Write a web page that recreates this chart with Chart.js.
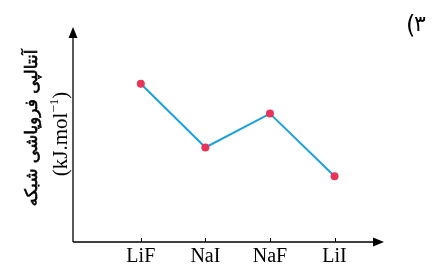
<!DOCTYPE html>
<html>
<head>
<meta charset="utf-8">
<script src="https://cdn.jsdelivr.net/npm/chart.js@4"></script>
<style>
  html, body { margin: 0; padding: 0; background: #fff; }
  #wrap { width: 432px; height: 272px; }
</style>
</head>
<body>
<div id="wrap"><canvas id="c" width="432" height="272"></canvas></div>
<script>
// dane (jednostki umowne, bez podziałki na osi y)
const categories = ['LiF', 'NaI', 'NaF', 'LiI'];
const positions = [1, 2, 3, 4];
const enthalpy = [159, 95, 129, 66];
const yTitle = 'آنتالپی فروپاشی شبکه';
const yUnit = ['(kJ.mol', '−1', ')'];
const questionNo = '۳';

const lineColor = '#1aa0dc';
const pointColor = '#e8335a';

// osie ze strzałkami, kreski podziałki i podpisy rysowane ręcznie
const axesPlugin = {
    id: 'axesPlugin',
    afterDraw(chart) {
        const ctx = chart.ctx;
        const a = chart.chartArea;
        const xs = chart.scales.x;
        const ox = a.left, oy = a.bottom;
        const xEnd = 384, yEnd = 27;
        ctx.save();
        ctx.strokeStyle = '#000';
        ctx.fillStyle = '#000';
        ctx.lineWidth = 1.3;
        ctx.beginPath();
        ctx.moveTo(ox, oy);
        ctx.lineTo(xEnd - 8, oy);
        ctx.moveTo(ox, oy);
        ctx.lineTo(ox, yEnd + 8);
        ctx.stroke();
        // strzałki
        ctx.beginPath();
        ctx.moveTo(xEnd, oy);
        ctx.lineTo(xEnd - 11, oy - 4.5);
        ctx.lineTo(xEnd - 11, oy + 4.5);
        ctx.closePath();
        ctx.fill();
        ctx.beginPath();
        ctx.moveTo(ox, yEnd);
        ctx.lineTo(ox - 4.5, yEnd + 11);
        ctx.lineTo(ox + 4.5, yEnd + 11);
        ctx.closePath();
        ctx.fill();
        // kreski
        ctx.lineWidth = 1;
        positions.forEach(p => {
            const px = Math.round(xs.getPixelForValue(p)) + 0.5;
            ctx.beginPath();
            ctx.moveTo(px, oy);
            ctx.lineTo(px, oy - 4);
            ctx.stroke();
        });

        // tytuł osi y
        ctx.translate(33, 128);
        ctx.rotate(-Math.PI / 2);
        ctx.textAlign = 'center';
        ctx.textBaseline = 'middle';
        ctx.direction = 'rtl';
        ctx.font = '17px "DejaVu Sans"';
        ctx.lineWidth = 0.6;
        ctx.fillText(yTitle, 0, 0);
        ctx.strokeText(yTitle, 0, 0);
        ctx.restore();

        ctx.save();
        ctx.translate(60, 134);
        ctx.rotate(-Math.PI / 2);
        ctx.fillStyle = '#000';
        ctx.textBaseline = 'alphabetic';
        const f1 = '21px "Liberation Serif"', f2 = '13px "Liberation Serif"';
        ctx.font = f1;
        const w1 = ctx.measureText(yUnit[0]).width;
        const w3 = ctx.measureText(yUnit[2]).width;
        ctx.font = f2;
        const w2 = ctx.measureText(yUnit[1]).width;
        let x = -(w1 + w2 + w3) / 2;
        ctx.font = f1;
        ctx.fillText(yUnit[0], x, 7);
        x += w1;
        ctx.font = f2;
        ctx.fillText(yUnit[1], x, -2);
        x += w2;
        ctx.font = f1;
        ctx.fillText(yUnit[2], x, 7);
        ctx.restore();

        // numer pytania
        ctx.save();
        ctx.textAlign = 'left';
        ctx.textBaseline = 'alphabetic';
        ctx.fillStyle = '#000';
        ctx.font = '24px "DejaVu Sans"';
        ctx.fillText('(', 406, 33);
        ctx.font = '22px "DejaVu Sans"';
        ctx.fillText(questionNo, 414, 31);
        ctx.restore();
    }
};

new Chart(document.getElementById('c'), {
    type: 'line',
    data: {
        datasets: [{
            data: positions.map((p, i) => ({ x: p, y: enthalpy[i] })),
            borderColor: lineColor,
            borderWidth: 2,
            pointBackgroundColor: pointColor,
            pointBorderColor: pointColor,
            pointRadius: 4,
            pointBorderWidth: 0,
            tension: 0,
            fill: false
        }]
    },
    options: {
        responsive: false,
        animation: false,
        layout: { padding: { left: 73, top: 30, right: 49, bottom: 0 } },
        plugins: { legend: { display: false }, tooltip: { enabled: false } },
        scales: {
            x: {
                type: 'linear',
                min: -0.05,
                max: 4.75,
                grid: { display: false, drawTicks: false },
                border: { display: false },
                afterBuildTicks: s => { s.ticks = positions.map(v => ({ value: v })); },
                ticks: {
                    padding: 5,
                    color: '#000',
                    font: { family: 'Liberation Serif', size: 20, lineHeight: 1 },
                    callback: v => categories[positions.indexOf(v)] || ''
                }
            },
            y: {
                display: false,
                min: 0,
                max: 213
            }
        }
    },
    plugins: [axesPlugin]
});
</script>
</body>
</html>
